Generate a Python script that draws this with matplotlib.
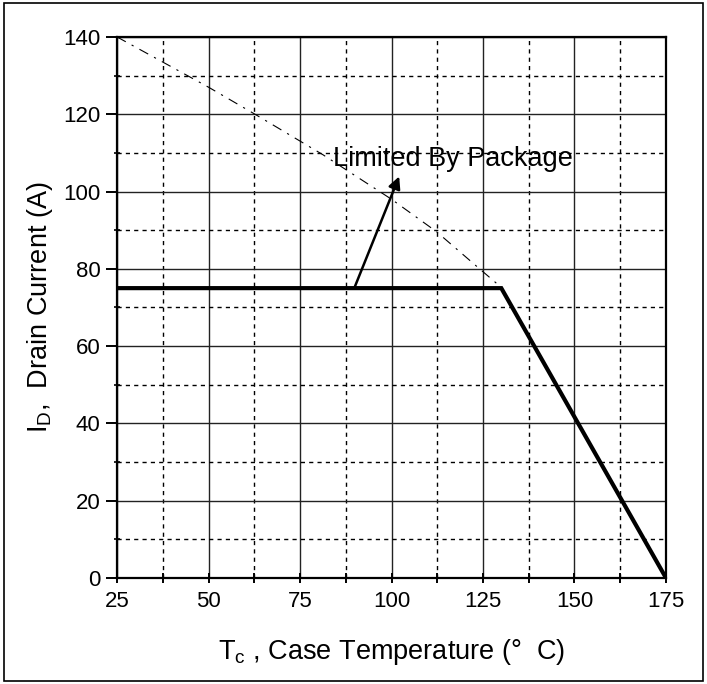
import numpy as np
import matplotlib
matplotlib.use("Agg")
import matplotlib.pyplot as plt
from matplotlib.ticker import MultipleLocator
from matplotlib.patches import Rectangle

plt.rcParams['font.family'] = ['Liberation Sans', 'DejaVu Sans']
plt.rcParams['mathtext.default'] = 'regular'

# package limited drain current (thick line)
temp_pkg = [25, 130, 175]
id_pkg = [75, 75, 0]

# silicon limited drain current (dash-dot curve)
temp_si = [25, 50, 62.7, 81.3, 100, 112.3, 123.2, 129]
id_si = [140, 127, 120, 109.5, 98, 89.6, 80.7, 76]

fig = plt.figure(figsize=(7.07, 6.84), dpi=100)
fig.patches.append(Rectangle((0.006, 0.005), 0.988, 0.99, transform=fig.transFigure,
                             fill=False, ec='black', lw=1.2))

ax = fig.add_axes([0.1655, 0.155, 0.7765, 0.791])
ax.set_xlim(25, 175)
ax.set_ylim(0, 140)

ax.xaxis.set_major_locator(MultipleLocator(25))
ax.xaxis.set_minor_locator(MultipleLocator(12.5))
ax.yaxis.set_major_locator(MultipleLocator(20))
ax.yaxis.set_minor_locator(MultipleLocator(10))

ax.grid(which='major', color='#222222', lw=1.0, ls='-')
ax.grid(which='minor', color='black', lw=1.0, ls=(0, (3, 3)))
ax.set_axisbelow(True)

for s in ax.spines.values():
    s.set_linewidth(1.6)

ax.tick_params(axis='y', which='major', direction='out', length=8, width=1.4, labelsize=16, pad=4)
ax.tick_params(axis='y', which='minor', direction='inout', length=5, width=1.2)
ax.tick_params(axis='x', which='both', direction='inout', length=7, width=1.4, labelsize=16, pad=6)

ax.plot(temp_si, id_si, color='black', lw=0.8, ls=(0, (9, 6, 2, 6)))
ax.plot(temp_pkg, id_pkg, color='black', lw=3, solid_joinstyle='miter')

ax.annotate('', xy=(102.1, 103.9), xytext=(90, 75.4),
            arrowprops=dict(arrowstyle='-|>', color='black', lw=1.8, mutation_scale=18,
                            shrinkA=0, shrinkB=0))
ax.text(116.8, 108.5, 'Limited By Package', fontsize=19.5, ha='center', va='center')

ax.set_xlabel(r'T$_\mathregular{c}$ , Case Temperature (°  C)', fontsize=19.5, labelpad=18)
ax.set_ylabel(r'I$_\mathregular{D}$,  Drain Current (A)', fontsize=19.5, labelpad=6)

fig.savefig('out.png', dpi=100)
